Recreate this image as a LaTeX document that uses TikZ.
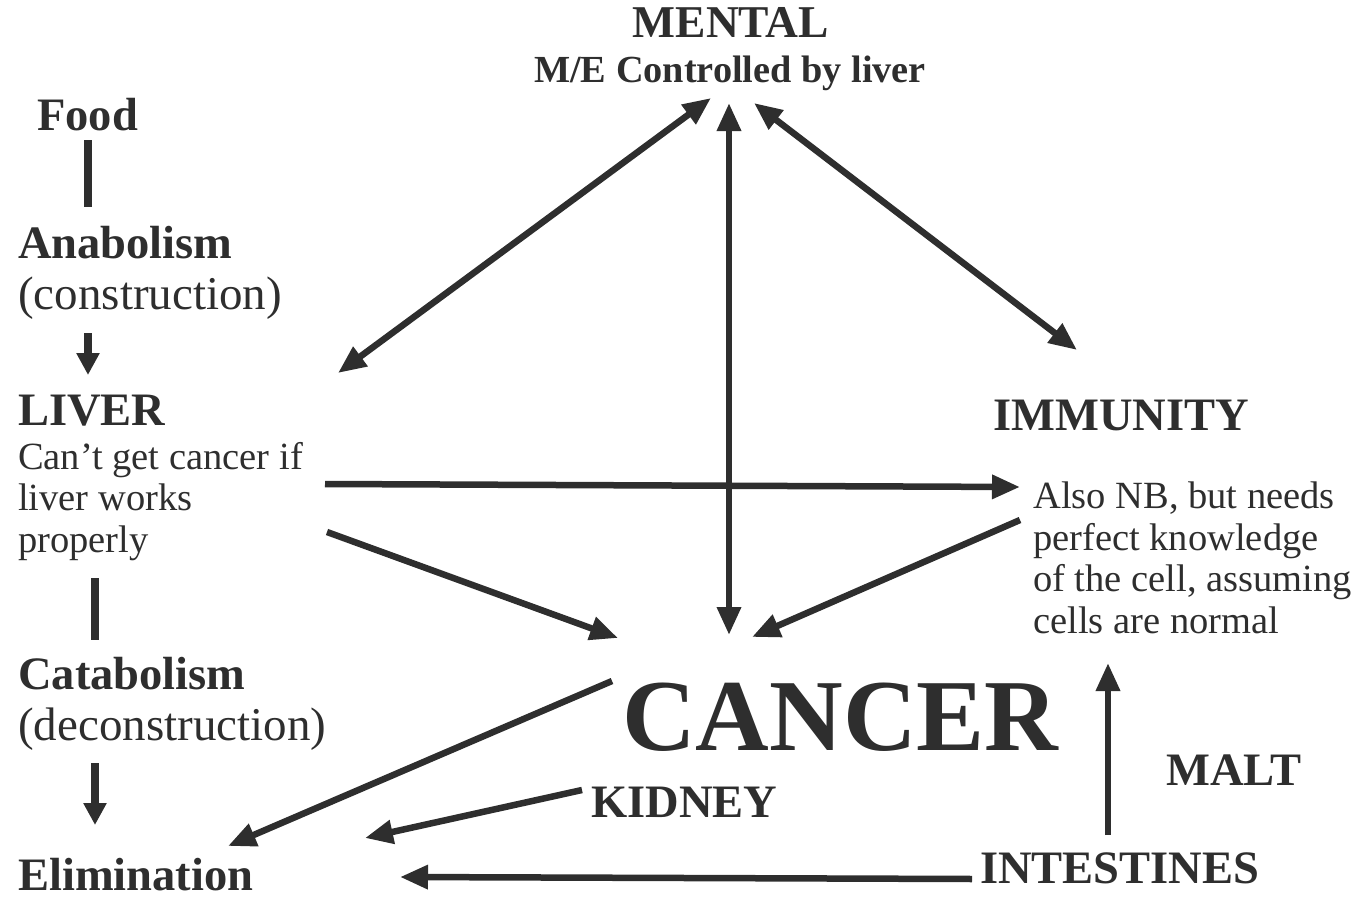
\documentclass[tikz,border=0pt]{standalone}
\usepackage{fontspec}
\setmainfont{Liberation Serif}
\usetikzlibrary{arrows.meta}
\definecolor{ink}{HTML}{2E2E2E}
\begin{document}
\begin{tikzpicture}[x=1pt,y=-1pt,
  lbl/.style={inner sep=0pt, text=ink, anchor=base west, font=\fontsize{46.5}{42}\selectfont\bfseries},
  paren/.style={inner sep=0pt, text=ink, anchor=base west, font=\fontsize{47}{42}\selectfont},
  note/.style={inner sep=0pt, text=ink, anchor=north west, align=left, font=\fontsize{38.5}{41.5}\selectfont},
  headlbl/.style={inner sep=0pt, text=ink, anchor=base, font=\fontsize{45.5}{42}\selectfont\bfseries},
  bar/.style={draw=ink, line width=7.5pt},
  conn/.style={draw=ink, line width=6.5pt, -{Triangle[length=28pt,width=23pt]}},
  biconn/.style={draw=ink, line width=6.5pt, {Triangle[length=28pt,width=23pt]}-{Triangle[length=28pt,width=23pt]}},
  shortconn/.style={draw=ink, line width=7.5pt, -{Triangle[length=22pt,width=22pt]}}]
\useasboundingbox (0,0) rectangle (1369,899);
% left column
\node[lbl] (food) at (37,131) {Food};
\node[lbl] (anab) at (18,258) {Anabolism};
\node[paren] (constr) at (18,309) {(construction)};
\node[lbl] (liver) at (18,425) {LIVER};
\node[note] (livernote) at (18,442) {Can’t get cancer if\\liver works\\properly};
\node[lbl] (catab) at (18,689) {Catabolism};
\node[paren] (decon) at (18,740) {(deconstruction)};
\node[lbl] (elim) at (18,890) {Elimination};
% top
\node[headlbl] (mental) at (731,38) {MENTAL};
\node[inner sep=0pt, text=ink, anchor=base, font=\fontsize{38.3}{40}\selectfont\bfseries] (mentalsub) at (730,82) {M/E Controlled by liver};
% right
\node[lbl] (immunity) at (993,430) {IMMUNITY};
\node[note] (immnote) at (1033,482) {Also NB, but needs\\perfect knowledge\\of the cell, assuming\\cells are normal};
\node[inner sep=0pt, text=ink, anchor=base west, font=\fontsize{102}{100}\selectfont\bfseries] (cancer) at (622,750) {CANCER};
\node[lbl] (kidney) at (591,817) {KIDNEY};
\node[lbl] (malt) at (1166,785) {MALT};
\node[lbl] (intest) at (980,883) {INTESTINES};
% connector end points
\coordinate (f1) at (88,140);   \coordinate (f2) at (88,207);
\coordinate (c1) at (88,333);   \coordinate (c2) at (88,375);
\coordinate (l1) at (95,578);   \coordinate (l2) at (95,640);
\coordinate (d1) at (95,763);   \coordinate (d2) at (95,825);
\coordinate (mL) at (711,98);   \coordinate (lvT) at (338,373);
\coordinate (mV) at (729,103);  \coordinate (cT) at (729,635);
\coordinate (mR) at (754,103);  \coordinate (imT) at (1077,350);
\coordinate (lvA) at (325,484); \coordinate (imA) at (1020,487);
\coordinate (lvB) at (327,532); \coordinate (cL) at (618,638);
\coordinate (imB) at (1020,520);\coordinate (cR) at (752,637);
\coordinate (cS) at (612,681);  \coordinate (eA) at (228,846);
\coordinate (kS) at (582,790);  \coordinate (eB) at (365,838);
\coordinate (iS) at (972,879);  \coordinate (eC) at (400,877);
\coordinate (iU) at (1108,835); \coordinate (imU) at (1108,663);
% connectors
\draw[bar] (f1) -- (f2);
\draw[shortconn] (c1) -- (c2);
\draw[bar] (l1) -- (l2);
\draw[shortconn] (d1) -- (d2);
\draw[biconn] (mL) -- (lvT);
\draw[biconn] (mV) -- (cT);
\draw[biconn] (mR) -- (imT);
\draw[conn] (lvA) -- (imA);
\draw[conn] (lvB) -- (cL);
\draw[conn] (imB) -- (cR);
\draw[conn] (cS) -- (eA);
\draw[conn] (kS) -- (eB);
\draw[conn] (iS) -- (eC);
\draw[conn] (iU) -- (imU);
\end{tikzpicture}
\end{document}
